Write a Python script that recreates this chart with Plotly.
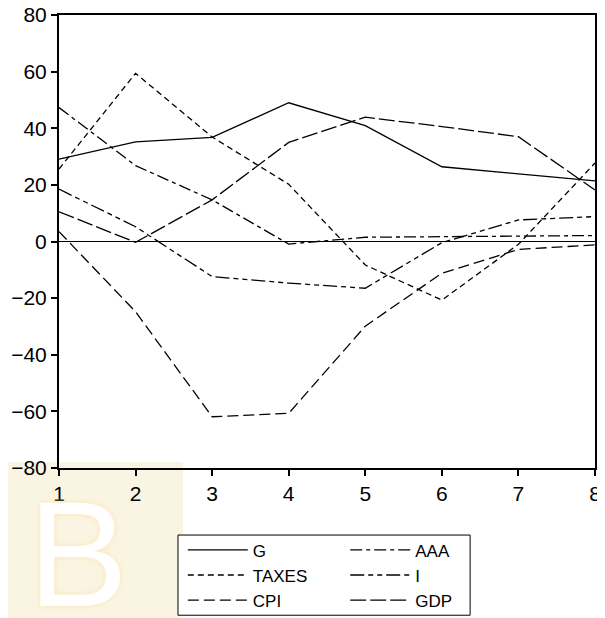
import plotly.graph_objects as go

periods = [1, 2, 3, 4, 5, 6, 7, 8]
G = [29.1, 35.2, 36.8, 49.0, 40.9, 26.4, 23.9, 21.4]
AAA = [47.3, 26.8, 14.7, -0.9, 1.5, 1.8, 1.9, 2.1]
TAXES = [25.6, 59.4, 36.9, 20.2, -8.3, -20.7, -1.0, 27.7]
I = [18.5, 5.2, -12.4, -14.7, -16.5, -0.4, 7.6, 8.8]
CPI = [3.5, -24.8, -61.9, -60.7, -29.9, -11.2, -2.8, -1.2]
GDP = [10.5, -0.3, 14.7, 35.0, 43.9, 40.6, 37.0, 18.2]

y_ticks = [-80, -60, -40, -20, 0, 20, 40, 60, 80]

series = [
    ("G", G, "solid", "legend"),
    ("AAA", AAA, "12px,4px,4px,4px", "legend2"),
    ("TAXES", TAXES, "6px,4px", "legend"),
    ("I", I, "14px,4px,5px,4px,5px,4px", "legend2"),
    ("CPI", CPI, "11px,5px", "legend"),
    ("GDP", GDP, "16px,4px", "legend2"),
]

fig = go.Figure()
for name, vals, dash, leg in series:
    fig.add_trace(go.Scatter(x=periods, y=vals, mode="lines", name=name, legend=leg,
                             line=dict(color="black", width=1.3, dash=dash)))

tick_font = dict(family="Liberation Sans, Arial, sans-serif", size=21, color="black")
leg_font = dict(family="Liberation Sans, Arial, sans-serif", size=17, color="black")

leg_common = dict(orientation="v", xanchor="left", yanchor="top", y=-0.142,
                  borderwidth=0, bgcolor="rgba(0,0,0,0)", font=leg_font,
                  tracegroupgap=0, itemwidth=60)

fig.update_layout(
    width=597, height=610,
    margin=dict(l=51, r=10, t=7, b=150, autoexpand=False),
    paper_bgcolor="white", plot_bgcolor="white",
    font=tick_font,
    showlegend=True,
    legend=dict(x=0.231, **leg_common),
    legend2=dict(x=0.534, **leg_common),
    shapes=[
        dict(type="rect", xref="paper", yref="paper", x0=-0.11, x1=0.231,
             y0=-0.36, y1=0.013, fillcolor="#faf5e2", line=dict(width=0), layer="below"),
        dict(type="rect", xref="paper", yref="paper", x0=0.222, x1=0.767,
             y0=-0.325, y1=-0.148, fillcolor="white",
             line=dict(color="black", width=1), layer="below"),
    ],
    annotations=[dict(text="B", xref="paper", yref="paper", x=0.035, y=-0.38,
                      xanchor="center", yanchor="bottom", showarrow=False,
                      font=dict(family="Liberation Sans, Arial", size=150, color="#ffffff",
                                shadow="0 0 6px #fbe3b8"))],
)
fig.update_xaxes(range=[1, 8], tickvals=periods, showgrid=False, zeroline=False,
                 showline=True, linecolor="black", linewidth=2, mirror=True,
                 ticks="outside", ticklen=6, tickcolor="black", tickwidth=1.5,
                 tickfont=tick_font, automargin=False, ticklabeloverflow="allow")
fig.update_yaxes(range=[-80, 80], tickvals=y_ticks, showgrid=False, zeroline=True,
                 zerolinecolor="black", zerolinewidth=1,
                 showline=True, linecolor="black", linewidth=2, mirror=True,
                 ticks="outside", ticklen=6, tickcolor="black", tickwidth=1.5,
                 tickfont=tick_font, automargin=False, ticklabeloverflow="allow")

fig.write_html("out.html")
